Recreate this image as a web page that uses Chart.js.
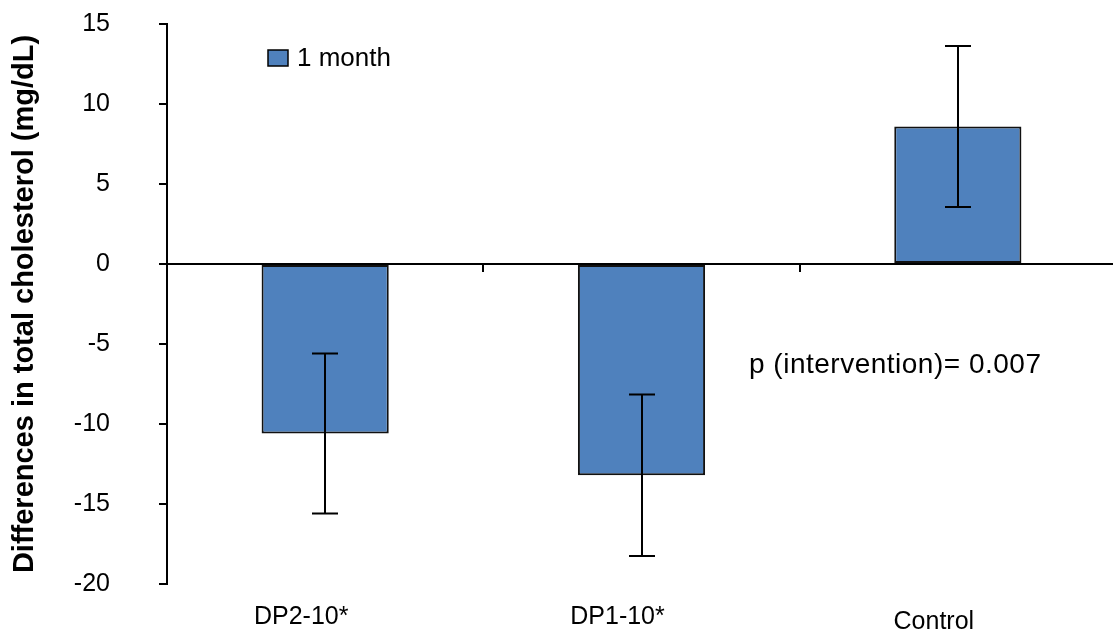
<!DOCTYPE html>
<html>
<head>
<meta charset="utf-8">
<script src="https://cdn.jsdelivr.net/npm/chart.js@4.4.1/dist/chart.umd.min.js"></script>
<style>
  html, body { margin: 0; padding: 0; background: #ffffff; overflow: hidden; }
  #wrap { width: 1113px; height: 634px; overflow: hidden; }
</style>
</head>
<body>
<div id="wrap"><canvas id="chart" width="1116" height="634"></canvas></div>
<script>
// Change in total cholesterol after 1 month, by group
const categories = ['DP2-10*', 'DP1-10*', 'Control'];
const meanChange = [-10.6, -13.2, 8.6];
const errorSize = [5.0, 5.05, 5.03];
const yTickValues = [-20, -15, -10, -5, 0, 5, 10, 15];
const seriesLabel = '1 month';
const yTitle = 'Differences in total cholesterol (mg/dL)';
const pNote = 'p (intervention)= 0.007';

const BAR_BLUE = '#4F81BD';
const FONT = '"Liberation Sans", Arial, Helvetica, sans-serif';

// zero line ticks between categories, error bars, legend, note and category labels
const decorations = {
  id: 'decorations',
  afterDatasetsDraw(chart) {
    const { ctx, chartArea: area, scales: { x, y } } = chart;
    const meta = chart.getDatasetMeta(0);
    const zeroY = y.getPixelForValue(0);

    ctx.save();
    ctx.strokeStyle = '#000';
    ctx.lineWidth = 2;

    // category separators hanging below the zero line
    for (let i = 0; i < categories.length - 1; i++) {
      const bx = Math.round((x.getPixelForValue(i) + x.getPixelForValue(i + 1)) / 2);
      ctx.beginPath();
      ctx.moveTo(bx, zeroY);
      ctx.lineTo(bx, zeroY + 8);
      ctx.stroke();
    }

    // error bars
    meta.data.forEach((bar, i) => {
      const cx = Math.round(bar.x);
      const yHi = y.getPixelForValue(meanChange[i] + errorSize[i]);
      const yLo = y.getPixelForValue(meanChange[i] - errorSize[i]);
      ctx.beginPath();
      ctx.moveTo(cx, yHi); ctx.lineTo(cx, yLo);
      ctx.moveTo(cx - 13, yHi); ctx.lineTo(cx + 13, yHi);
      ctx.moveTo(cx - 13, yLo); ctx.lineTo(cx + 13, yLo);
      ctx.stroke();
    });

    // legend
    const lx = area.left + 101, ly = area.top + 26;
    ctx.fillStyle = BAR_BLUE;
    ctx.fillRect(lx, ly, 20, 16);
    ctx.lineWidth = 1.5;
    ctx.strokeRect(lx, ly, 20, 16);
    ctx.fillStyle = '#000';
    ctx.font = '26px ' + FONT;
    ctx.textAlign = 'left';
    ctx.textBaseline = 'middle';
    ctx.fillText(seriesLabel, lx + 29, ly + 9);

    // significance note
    ctx.font = '28px ' + FONT;
    ctx.letterSpacing = '0.5px';
    ctx.fillText(pNote, area.left + 582, y.getPixelForValue(-6.3));
    ctx.letterSpacing = '0px';

    // category labels below the plot
    ctx.font = '25px ' + FONT;
    ctx.textAlign = 'center';
    ctx.textBaseline = 'middle';
    categories.forEach((lab, i) => {
      const cx = x.getPixelForValue(i) - 24;
      const cy = area.bottom + (i === categories.length - 1 ? 38 : 33);
      ctx.fillText(lab, cx, cy);
    });
    ctx.restore();
  }
};

new Chart(document.getElementById('chart'), {
  type: 'bar',
  data: {
    labels: categories,
    datasets: [{
      label: seriesLabel,
      data: meanChange,
      backgroundColor: BAR_BLUE,
      borderColor: '#111',
      borderWidth: 2,
      borderSkipped: false,
      categoryPercentage: 1.0,
      barPercentage: 0.402
    }]
  },
  options: {
    responsive: false,
    animation: false,
    layout: { padding: { top: 24, right: 0, left: 0, bottom: 50 } },
    plugins: { legend: { display: false }, tooltip: { enabled: false } },
    scales: {
      x: {
        display: false
      },
      y: {
        min: -20,
        max: 15,
        afterBuildTicks(scale) { scale.ticks = yTickValues.map(v => ({ value: v })); },
        afterFit(scale) {
          scale.width = 167;
          scale.paddingTop = 0;
          scale.paddingBottom = 0;
        },
        border: { display: true, color: '#000', width: 2 },
        grid: {
          drawOnChartArea: true,
          color: ctx => (ctx.tick && ctx.tick.value === 0 ? '#000' : 'rgba(0,0,0,0)'),
          lineWidth: 2,
          tickColor: '#000',
          tickLength: 8
        },
        ticks: {
          color: '#000',
          padding: 49,
          font: { family: FONT, size: 25 }
        },
        title: {
          display: true,
          text: yTitle,
          color: '#000',
          font: { family: FONT, size: 29, weight: 'bold' },
          padding: { top: 8, bottom: 0 }
        }
      }
    }
  },
  plugins: [decorations]
});
</script>
</body>
</html>
